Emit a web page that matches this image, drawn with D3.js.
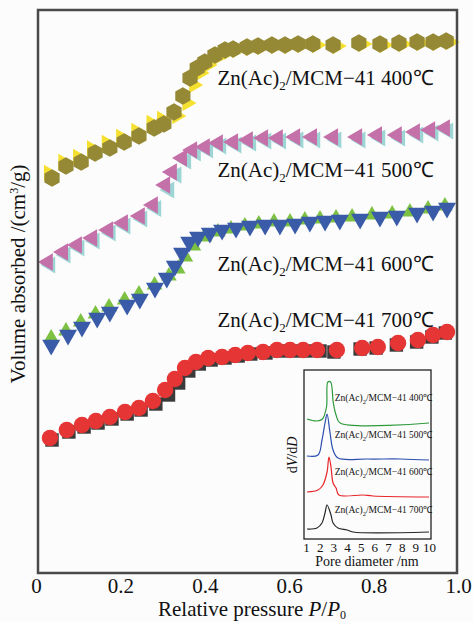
<!DOCTYPE html>
<html>
<head>
<meta charset="utf-8">
<script src="https://cdn.jsdelivr.net/npm/d3@7"></script>
<style>
body { margin:0; background:#fcfcfc; }
svg { display:block; background:#fcfcfc; }
</style>
</head>
<body>
<svg width="473" height="622"></svg>
<script>
// isotherms [P/P0 , volume (offset, arb.)]
var ads400 = [[0.038,790],[0.071,814],[0.107,822],[0.140,840],[0.175,850],[0.209,862],[0.244,874],[0.280,890],[0.303,898],[0.327,922],[0.348,954],[0.365,990],[0.382,1010],[0.400,1022],[0.424,1036],[0.448,1046],[0.467,1048],[0.500,1052],[0.526,1054],[0.559,1056],[0.590,1056],[0.621,1058],[0.656,1058],[0.704,1056],[0.765,1060],[0.815,1058],[0.860,1060],[0.903,1062],[0.941,1062],[0.972,1064]];
var des400 = [[0.030,800],[0.064,822],[0.099,832],[0.132,849],[0.167,860],[0.201,872],[0.237,884],[0.273,900],[0.298,908],[0.334,914],[0.358,940],[0.374,976],[0.389,1000],[0.408,1016],[0.432,1032],[0.455,1042],[0.476,1046],[0.508,1050],[0.535,1052],[0.568,1054],[0.599,1054],[0.630,1056],[0.666,1056],[0.714,1054],[0.775,1058],[0.825,1056],[0.870,1058],[0.913,1060],[0.951,1060],[0.982,1062]];
var ads500 = [[0.028,622],[0.064,642],[0.097,656],[0.133,670],[0.171,686],[0.206,700],[0.246,714],[0.277,736],[0.306,776],[0.322,802],[0.346,830],[0.370,846],[0.400,852],[0.431,860],[0.467,862],[0.502,866],[0.538,870],[0.573,870],[0.614,872],[0.654,872],[0.704,872],[0.761,872],[0.808,876],[0.855,876],[0.898,882],[0.934,886],[0.969,890]];
var des500 = [[0.034,616],[0.070,636],[0.103,650],[0.139,664],[0.177,680],[0.212,694],[0.252,708],[0.285,729],[0.316,766],[0.333,796],[0.356,824],[0.379,840],[0.408,846],[0.439,854],[0.475,856],[0.510,860],[0.546,864],[0.581,864],[0.622,866],[0.662,866],[0.712,866],[0.769,866],[0.816,870],[0.863,870],[0.906,876],[0.942,880],[0.977,884]];
var ads600 = [[0.036,456],[0.076,476],[0.109,492],[0.145,510],[0.175,522],[0.216,536],[0.246,548],[0.282,570],[0.310,590],[0.329,614],[0.346,640],[0.363,662],[0.384,672],[0.412,680],[0.441,686],[0.474,690],[0.507,694],[0.543,696],[0.578,696],[0.614,698],[0.649,702],[0.685,704],[0.720,706],[0.768,708],[0.815,712],[0.855,714],[0.903,720],[0.941,724],[0.974,730]];
var des600 = [[0.036,470],[0.071,484],[0.106,502],[0.141,518],[0.173,532],[0.210,546],[0.244,558],[0.281,576],[0.315,594],[0.336,608],[0.354,632],[0.373,654],[0.399,672],[0.431,682],[0.462,688],[0.495,694],[0.528,698],[0.564,702],[0.602,702],[0.637,706],[0.673,708],[0.711,710],[0.749,712],[0.796,716],[0.844,718],[0.886,722],[0.929,728],[0.969,734]];
var ads700 = [[0.033,270],[0.073,286],[0.109,296],[0.142,304],[0.175,312],[0.211,322],[0.244,330],[0.277,344],[0.306,366],[0.329,388],[0.353,410],[0.379,422],[0.408,430],[0.441,432],[0.472,436],[0.502,440],[0.538,442],[0.571,446],[0.602,446],[0.633,446],[0.666,446],[0.713,446],[0.773,450],[0.810,452],[0.858,460],[0.905,466],[0.941,476],[0.974,482]];
var des700 = [[0.038,266],[0.078,282],[0.114,292],[0.147,300],[0.180,308],[0.216,318],[0.249,326],[0.284,338],[0.314,356],[0.338,380],[0.362,404],[0.387,418],[0.415,426],[0.448,430],[0.479,434],[0.509,438],[0.545,440],[0.578,444],[0.609,444],[0.640,444],[0.673,444],[0.706,442],[0.768,448],[0.806,450],[0.854,456],[0.902,462],[0.938,472],[0.970,480]];

var sampleNames = ["400", "500", "600", "700"];
var labelPos = [[0.43,976],[0.43,792],[0.43,604],[0.43,492]];
var xTicks = [0, 0.2, 0.4, 0.6, 0.8, 1.0];

// inset: pore size distribution [d (nm), dV/dD (offset)]
var psd400 = [[1.07,120],[1.8,118],[2.2,120],[2.5,132],[2.6,157],[2.8,157],[3.0,136],[3.2,124],[3.5,116],[10,116]];
var psd500 = [[1.07,83],[1.88,84],[2.17,99],[2.39,116],[2.54,125],[2.76,106],[2.98,89],[3.34,81],[5.46,80],[7.9,80],[10,79]];
var psd600 = [[1.07,47],[1.88,49],[2.24,54],[2.54,67],[2.68,82],[2.83,72],[2.98,56],[3.2,51],[3.41,44],[5.17,44],[5.9,43],[10,42]];
var psd700 = [[1.07,10],[1.8,11],[2.17,16],[2.39,26],[2.54,34],[2.83,24],[2.98,16],[3.34,11],[4.0,9],[4.44,7],[10,7]];
var insetLabelPos = [[3.1,138],[3.1,101],[3.1,64],[3.1,26]];
var insetTicks = [1,2,3,4,5,6,7,8,9,10];

var FONT = "'Liberation Serif'";

svg = d3.select("svg");

x = d3.scaleLinear().domain([0, 1]).range([36, 458]);
y = d3.scaleLinear().domain([0, 1126]).range([573, 10]);

// hexagon symbol (pointy top)
var symbolHexagon = {
	draw: function(ctx, size) {
		var r = Math.sqrt(size / 2.598);
		for (var k = 0; k < 6; k++) {
			var a = Math.PI / 3 * k - Math.PI / 2;
			if (k == 0) ctx.moveTo(r * Math.cos(a), r * Math.sin(a));
			else ctx.lineTo(r * Math.cos(a), r * Math.sin(a));
		}
		ctx.closePath();
	}
};

var series = [
	{ data: des400, type: d3.symbolTriangle, size: 115, rot: 90,  color: "#f5e030" },
	{ data: ads400, type: symbolHexagon,     size: 200, rot: 0,   color: "#958936" },
	{ data: des500, type: d3.symbolTriangle, size: 125, rot: -90, color: "#9dd5d5" },
	{ data: ads500, type: d3.symbolTriangle, size: 130, rot: -90, color: "#c470a9" },
	{ data: des600, type: d3.symbolTriangle, size: 105, rot: 0,   color: "#7cc142" },
	{ data: ads600, type: d3.symbolTriangle, size: 140, rot: 180, color: "#3a5ba8" },
	{ data: des700, type: d3.symbolSquare,   size: 180, rot: 0,   color: "#3a3a3a" },
	{ data: ads700, type: d3.symbolCircle,   size: 210, rot: 0,   color: "#e63535" }
];

plot = svg.append("g").attr("class", "plot");

series.forEach(function(s) {
	var sym = d3.symbol().type(s.type).size(s.size);
	plot.append("g").selectAll("path")
		.data(s.data)
		.enter().append("path")
			.attr("d", sym)
			.attr("fill", s.color)
			.attr("transform", function(d) { return "translate(" + [x(d[0]), y(d[1])] + ") rotate(" + s.rot + ")"; })
	;
});

// series labels
sampleNames.forEach(function(nm, i) {
	var t = plot.append("text")
		.attr("x", x(labelPos[i][0]))
		.attr("y", y(labelPos[i][1]))
		.style("font-family", FONT)
		.style("font-size", "21px")
		.attr("fill", "#111");
	t.append("tspan").text("Zn(Ac)");
	t.append("tspan").text("2").style("font-size", "13px").attr("dy", 5);
	t.append("tspan").text("/MCM\u221241 " + nm + "\u2103").attr("dy", -5);
});

// frame
svg.append("rect")
	.attr("x", 38).attr("y", 10)
	.attr("width", 419).attr("height", 563)
	.attr("fill", "none")
	.attr("stroke", "#4a4a4a")
	.attr("stroke-width", 2.5);

// x axis
asisX = svg.append("g")
	.attr("transform", "translate(0,573)")
	.call(d3.axisBottom(x).tickValues(xTicks).tickSize(0).tickPadding(5)
		.tickFormat(function(d) { return d == 0 ? "0" : d3.format(".1f")(d); }));
asisX.attr("font-family", null);
asisX.select(".domain").remove();
asisX.selectAll("text")
	.style("font-family", FONT)
	.style("font-size", "21px")
	.attr("fill", "#111");

xt = svg.append("text")
	.attr("x", 252).attr("y", 616)
	.attr("text-anchor", "middle")
	.style("font-family", FONT)
	.style("font-size", "21px")
	.attr("fill", "#111");
xt.append("tspan").text("Relative pressure ");
xt.append("tspan").text("P").style("font-style", "italic");
xt.append("tspan").text("/");
xt.append("tspan").text("P").style("font-style", "italic");
xt.append("tspan").text("0").style("font-size", "12px").attr("dy", 3);

yt = svg.append("text")
	.attr("transform", "translate(25,274) rotate(-90)")
	.attr("text-anchor", "middle")
	.style("font-family", FONT)
	.style("font-size", "21px")
	.attr("fill", "#111");
yt.append("tspan").text("Volume absorbed /(cm");
yt.append("tspan").text("3").style("font-size", "12px").attr("dy", -7);
yt.append("tspan").text("/g)").attr("dy", 7);

// inset
ix = d3.scaleLinear().domain([1, 10]).range([306, 429]);
iy = d3.scaleLinear().domain([0, 169]).range([539, 370]);

inset = svg.append("g").attr("class", "inset");
inset.append("rect")
	.attr("x", 304).attr("y", 370)
	.attr("width", 127).attr("height", 169)
	.attr("fill", "none")
	.attr("stroke", "#222")
	.attr("stroke-width", 1.3);

var psdLine = d3.line()
	.x(function(d) { return ix(d[0]); })
	.y(function(d) { return iy(d[1]); })
	.curve(d3.curveCatmullRom.alpha(0.5));

[[psd400, "#2f9a3c"], [psd500, "#2c4fb0"], [psd600, "#e8262a"], [psd700, "#262626"]].forEach(function(c) {
	inset.append("path")
		.attr("d", psdLine(c[0]))
		.attr("fill", "none")
		.attr("stroke", c[1])
		.attr("stroke-width", 1.2);
});

sampleNames.forEach(function(nm, i) {
	var t = inset.append("text")
		.attr("x", ix(insetLabelPos[i][0]))
		.attr("y", iy(insetLabelPos[i][1]))
		.style("font-family", FONT)
		.style("font-size", "9.5px")
		.attr("fill", "#111");
	t.append("tspan").text("Zn(Ac)");
	t.append("tspan").text("2").style("font-size", "6.5px").attr("dy", 2.5);
	t.append("tspan").text("/MCM\u221241 " + nm + "\u2103").attr("dy", -2.5);
});

ia = inset.append("g")
	.attr("transform", "translate(0,539)")
	.call(d3.axisBottom(ix).tickValues(insetTicks).tickSize(0).tickPadding(4));
ia.attr("font-family", null);
ia.select(".domain").remove();
ia.selectAll("text")
	.style("font-family", FONT)
	.style("font-size", "13px")
	.attr("fill", "#111");

inset.append("text")
	.attr("x", 367).attr("y", 566)
	.attr("text-anchor", "middle")
	.style("font-family", FONT)
	.style("font-size", "14px")
	.attr("fill", "#111")
	.text("Pore diameter /nm");

it = inset.append("text")
	.attr("transform", "translate(297,455) rotate(-90)")
	.attr("text-anchor", "middle")
	.style("font-family", FONT)
	.style("font-size", "14px")
	.attr("fill", "#111");
it.append("tspan").text("d");
it.append("tspan").text("V").style("font-style", "italic");
it.append("tspan").text("/d");
it.append("tspan").text("D").style("font-style", "italic");
</script>
</body>
</html>
